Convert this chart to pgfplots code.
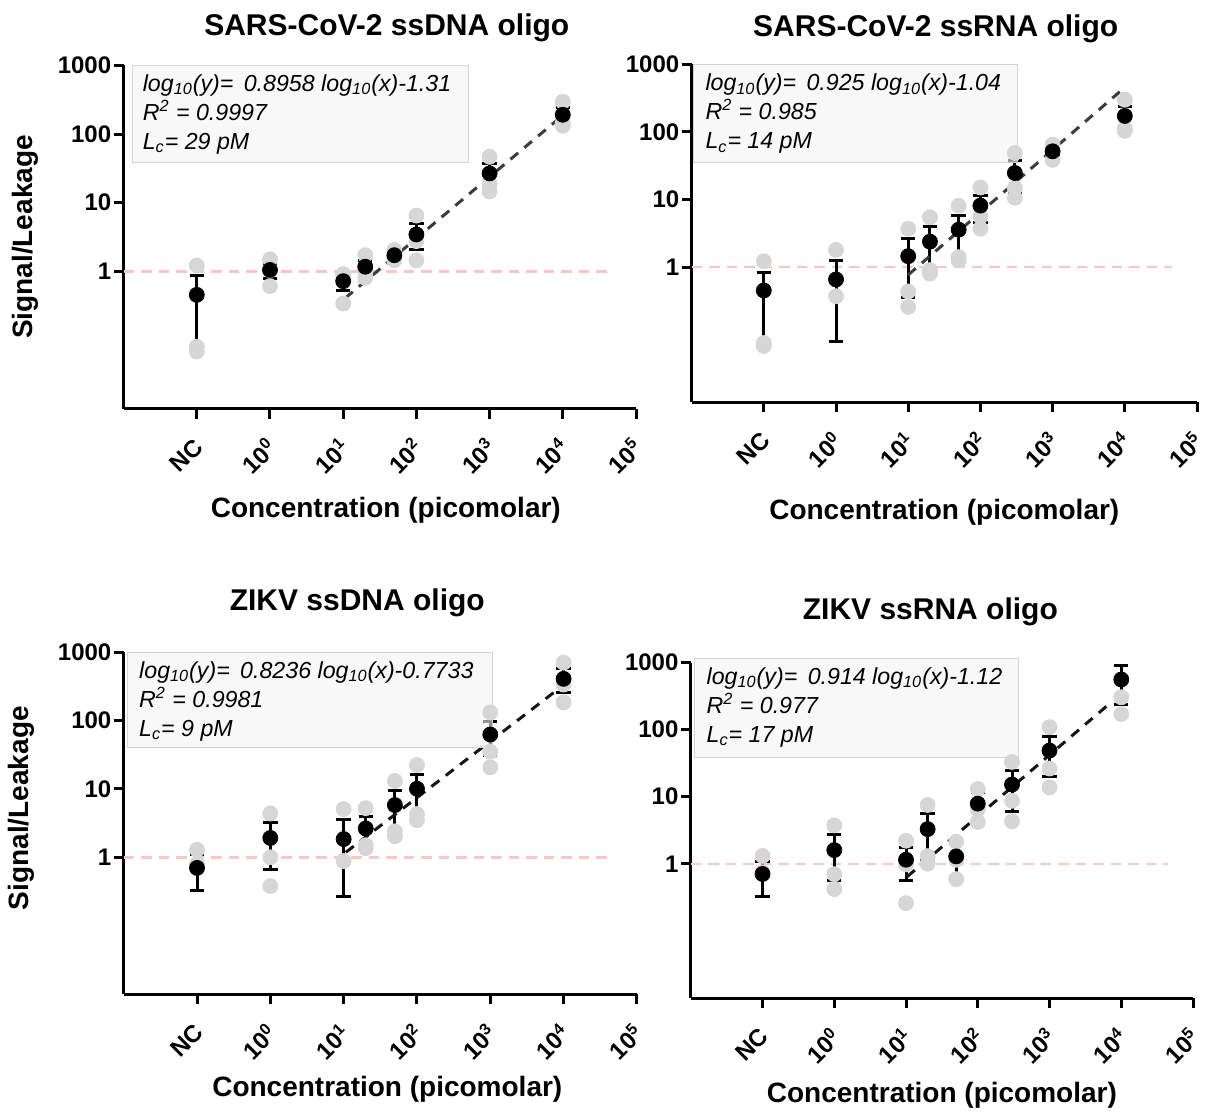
\documentclass[border=0pt]{standalone}
\usepackage{fontspec}
\setmainfont{Liberation Sans}
\usepackage{pgfplots}
\pgfplotsset{compat=1.18}
\definecolor{dotgray}{HTML}{D6D6D6}
\definecolor{refpink}{HTML}{FFC4C4}
\definecolor{boxfill}{HTML}{F3F3F3}
\definecolor{boxedge}{HTML}{D4D4D4}
\definecolor{fitA}{HTML}{3C3C3C}
\definecolor{fitB}{HTML}{161616}

\pgfplotsset{every axis/.append style={
   scale only axis,
   axis x line*=bottom, axis y line*=left,
   axis line style={line width=1.5pt, black},
   tick style={line width=1.5pt, black},
   tick align=outside, major tick length=5pt,
   xticklabel style={font=\fontsize{12}{14}\selectfont\bfseries, xshift=1pt, yshift=-12pt, rotate=45, anchor=east, inner sep=0pt},
   yticklabel style={font=\fontsize{12}{14}\selectfont\bfseries, inner sep=1pt},
   title style={font=\fontsize{15}{18}\selectfont\bfseries, anchor=base, at={(axis description cs:0.5,1)}},
   xlabel style={font=\fontsize{14}{17}\selectfont\bfseries, anchor=base, at={(axis description cs:0.5,0)}},
   ylabel style={font=\fontsize{14}{17}\selectfont\bfseries, anchor=base, at={(axis description cs:0,0.5)}},
}}

\newcommand{\statbox}[8]{%
 \fill[boxfill, fill opacity=0.6] (axis cs:#1,#4) rectangle (axis cs:#2,#3);
 \draw[boxedge, line width=0.5pt] (axis cs:#1,#4) rectangle (axis cs:#2,#3);
 \node[font=\fontsize{11.6}{13}\selectfont\itshape, anchor=base west, inner sep=0pt, yshift=-13pt] at (axis cs:#5,#4) {#6};
 \node[font=\fontsize{11.6}{13}\selectfont\itshape, anchor=base west, inner sep=0pt, yshift=-27.6pt] at (axis cs:#5,#4) {#7};
 \node[font=\fontsize{11.6}{13}\selectfont\itshape, anchor=base west, inner sep=0pt, yshift=-42pt] at (axis cs:#5,#4) {#8};
}

\begin{document}
\begin{tikzpicture}
\path (0,0) rectangle (603pt,556pt);

% ---------- Panel 1: SARS-CoV-2 ssDNA ----------
\begin{axis}[at={(61.8pt,351.65pt)}, width=256.2pt, height=171.65pt,
  xmode=log, ymode=log, xmin=1e-2, xmax=1e5, ymin=1e-2, ymax=1e3,
  xminorticks=false, yminorticks=false, clip=false,
  xtick={0.1,1,10,100,1000,10000,100000},
  xticklabels={NC,10\textsuperscript{0},10\textsuperscript{1},10\textsuperscript{2},10\textsuperscript{3},10\textsuperscript{4},10\textsuperscript{5}},
  ytick={1,10,100,1000}, yticklabels={1,10,100,1000},
  title={SARS-CoV-2 ssDNA oligo}, title style={xshift=3.5pt, yshift=9.1pt},
  ylabel={Signal/Leakage}, ylabel style={yshift=45.3pt},
  xlabel={Concentration (picomolar)}, xlabel style={yshift=-54.5pt, xshift=3pt}]
\addplot[refpink, line width=1.25pt, dash pattern=on 5.25pt off 3.5pt, no marks] coordinates {(0.01,1) (44668,1)};
\addplot[only marks, mark=*, mark size=3.75pt, dotgray, mark options={draw=dotgray, fill=dotgray}] coordinates {
 (0.1,1.22) (0.1,0.08) (0.1,0.068)
 (1,1.5) (1,1.04) (1,0.61)
 (10,0.91) (10,0.91) (10,0.34)
 (20,1.72) (20,0.98) (20,0.81)
 (50,2.05) (50,1.66) (50,1.45)
 (100,6.5) (100,2.76) (100,1.45)
 (1000,46.6) (1000,19) (1000,14.6)
 (10000,296) (10000,145) (10000,132)};
\addplot[only marks, mark=*, mark size=3.75pt, black,
   error bars/.cd, y dir=both, y explicit,
   error bar style={line width=1.5pt, black},
   error mark options={rotate=90, line width=1.5pt, mark size=3.6pt, black}] coordinates {
 (0.1,0.455) += (0,0.405) -= (0,0.373)
 (1,1.05) += (0,0.25) -= (0,0.25)
 (10,0.72) += (0,0.19) -= (0,0.19)
 (20,1.17) += (0,0.25) -= (0,0.25)
 (50,1.72) += (0,0.17) -= (0,0.17)
 (100,3.45) += (0,1.54) -= (0,1.4)
 (1000,26.7) += (0,10.2) -= (0,8.9)
 (10000,191) += (0,52) -= (0,43)};
\addplot[fitA, line width=1.5pt, dash pattern=on 5pt off 4pt, no marks] coordinates {(10.62,0.4066) (9333,176.1)};
\statbox{0.01303}{520}{38}{1000}{0.01807}
 {log\textsubscript{10}(y)=\hspace{0.45em}0.8958 log\textsubscript{10}(x)-1.31}
 {R\textsuperscript{2} = 0.9997}
 {L\textsubscript{c}= 29 pM}
\end{axis}

% ---------- Panel 2: SARS-CoV-2 ssRNA ----------
\begin{axis}[at={(345.8pt,354.9pt)}, width=252.7pt, height=168.9pt,
  xmode=log, ymode=log, xmin=1e-2, xmax=1e5, ymin=1e-2, ymax=1e3,
  xminorticks=false, yminorticks=false, clip=false,
  xtick={0.1,1,10,100,1000,10000,100000},
  xticklabels={NC,10\textsuperscript{0},10\textsuperscript{1},10\textsuperscript{2},10\textsuperscript{3},10\textsuperscript{4},10\textsuperscript{5}},
  ytick={1,10,100,1000}, yticklabels={1,10,100,1000},
  title={SARS-CoV-2 ssRNA oligo}, title style={xshift=-4.3pt, yshift=8.1pt},
  xlabel={Concentration (picomolar)}, xlabel style={yshift=-58.5pt}]
\addplot[refpink, line width=1.25pt, dash pattern=on 5.25pt off 3.5pt, no marks] coordinates {(0.01,1) (44668,1)};
\addplot[only marks, mark=*, mark size=3.75pt, dotgray, mark options={draw=dotgray, fill=dotgray}] coordinates {
 (0.1,1.22) (0.1,0.075) (0.1,0.068)
 (1,1.8) (1,0.37)
 (10,3.7) (10,0.435) (10,0.257)
 (20,5.46) (20,0.9) (20,0.8)
 (50,8.1) (50,1.4) (50,1.25)
 (100,15.1) (100,5.6) (100,3.7)
 (300,48.8) (300,14.7) (300,10.6)
 (1000,65) (1000,52) (1000,38.6)
 (10000,300) (10000,113) (10000,104)};
\addplot[only marks, mark=*, mark size=3.75pt, black,
   error bars/.cd, y dir=both, y explicit,
   error bar style={line width=1.5pt, black},
   error mark options={rotate=90, line width=1.5pt, mark size=3.6pt, black}] coordinates {
 (0.1,0.45) += (0,0.38) -= (0,0.37)
 (1,0.656) += (0,0.59) -= (0,0.576)
 (10,1.45) += (0,1.22) -= (0,1.09)
 (20,2.38) += (0,1.55) -= (0,1.47)
 (50,3.58) += (0,2.22) -= (0,2.13)
 (100,8.13) += (0,3.47) -= (0,3.6)
 (300,24.7) += (0,13) -= (0,12.3)
 (1000,51.7) += (0,5) -= (0,5)
 (10000,172.6) += (0,64) -= (0,60)};
\addplot[fitA, line width=1.5pt, dash pattern=on 5pt off 4pt, no marks] coordinates {(10,0.767) (8511,393.8)};
\statbox{0.01047}{326.6}{35.9}{1000}{0.01538}
 {log\textsubscript{10}(y)=\hspace{0.45em}0.925 log\textsubscript{10}(x)-1.04}
 {R\textsuperscript{2} = 0.985}
 {L\textsubscript{c}= 14 pM}
\end{axis}

% ---------- Panel 3: ZIKV ssDNA ----------
\begin{axis}[at={(61.85pt,59pt)}, width=256.6pt, height=170.85pt,
  xmode=log, ymode=log, xmin=1e-2, xmax=1e5, ymin=1e-2, ymax=1e3,
  xminorticks=false, yminorticks=false, clip=false,
  xtick={0.1,1,10,100,1000,10000,100000},
  xticklabels={NC,10\textsuperscript{0},10\textsuperscript{1},10\textsuperscript{2},10\textsuperscript{3},10\textsuperscript{4},10\textsuperscript{5}},
  ytick={1,10,100,1000}, yticklabels={1,10,100,1000},
  title={ZIKV ssDNA oligo}, title style={xshift=-11.5pt, yshift=14.9pt},
  ylabel={Signal/Leakage}, ylabel style={yshift=47.6pt, xshift=7.5pt},
  xlabel={Concentration (picomolar)}, xlabel style={yshift=-51.1pt, xshift=3.5pt}]
\addplot[refpink, line width=1.25pt, dash pattern=on 5.25pt off 3.5pt, no marks] coordinates {(0.01,1) (44668,1)};
\addplot[only marks, mark=*, mark size=3.75pt, dotgray, mark options={draw=dotgray, fill=dotgray}] coordinates {
 (0.1,1.29) (0.1,0.8)
 (1,4.38) (1,1.0) (1,0.38)
 (10,5.07) (10,0.88)
 (20,5.25) (20,1.5) (20,1.36)
 (50,13.1) (50,2.4) (50,2.03)
 (100,22.4) (100,4.3) (100,3.5)
 (1000,132) (1000,35) (1000,20.7)
 (10000,705) (10000,337) (10000,185)};
\addplot[only marks, mark=*, mark size=3.75pt, black,
   error bars/.cd, y dir=both, y explicit,
   error bar style={line width=1.5pt, black},
   error mark options={rotate=90, line width=1.5pt, mark size=3.6pt, black}] coordinates {
 (0.1,0.70) += (0,0.41) -= (0,0.374)
 (1,1.92) += (0,1.28) -= (0,1.26)
 (10,1.85) += (0,1.67) -= (0,1.58)
 (20,2.64) += (0,1.3) -= (0,1.09)
 (50,5.82) += (0,3.7) -= (0,3.6)
 (100,10.07) += (0,6.4) -= (0,6.35)
 (1000,62.7) += (0,36) -= (0,32)
 (10000,409) += (0,161) -= (0,152)};
\addplot[fitB, line width=1.5pt, dash pattern=on 5pt off 4pt, no marks] coordinates {(10.7,1.184) (9333,313.6)};
\statbox{0.01122}{1072}{40.8}{1000}{0.01607}
 {log\textsubscript{10}(y)=\hspace{0.45em}0.8236 log\textsubscript{10}(x)-0.7733}
 {R\textsuperscript{2} = 0.9981}
 {L\textsubscript{c}= 9 pM}
\end{axis}

% ---------- Panel 4: ZIKV ssRNA ----------
\begin{axis}[at={(345.4pt,57pt)}, width=251.1pt, height=167.75pt,
  xmode=log, ymode=log, xmin=1e-2, xmax=1e5, ymin=1e-2, ymax=1e3,
  xminorticks=false, yminorticks=false, clip=false,
  xtick={0.1,1,10,100,1000,10000,100000},
  xticklabels={NC,10\textsuperscript{0},10\textsuperscript{1},10\textsuperscript{2},10\textsuperscript{3},10\textsuperscript{4},10\textsuperscript{5}},
  ytick={1,10,100,1000}, yticklabels={1,10,100,1000},
  title={ZIKV ssRNA oligo}, title style={xshift=-5.75pt, yshift=15.6pt},
  xlabel={Concentration (picomolar)}, xlabel style={yshift=-52pt}]
\addplot[refpink, line width=1.25pt, dash pattern=on 5.25pt off 3.5pt, no marks] coordinates {(0.01,1) (44668,1)};
\addplot[only marks, mark=*, mark size=3.75pt, dotgray, mark options={draw=dotgray, fill=dotgray}] coordinates {
 (0.1,1.31) (0.1,0.75)
 (1,3.74) (1,0.70) (1,0.42)
 (10,2.21) (10,0.98) (10,0.26)
 (20,7.54) (20,1.3) (20,1.0)
 (50,2.13) (50,1.15) (50,0.59)
 (100,13.0) (100,6.5) (100,4.2)
 (300,33) (300,8.7) (300,4.3)
 (1000,108.9) (1000,26.3) (1000,13.8)
 (10000,303) (10000,170)};
\addplot[only marks, mark=*, mark size=3.75pt, black,
   error bars/.cd, y dir=both, y explicit,
   error bar style={line width=1.5pt, black},
   error mark options={rotate=90, line width=1.5pt, mark size=3.6pt, black}] coordinates {
 (0.1,0.705) += (0,0.375) -= (0,0.375)
 (1,1.6) += (0,1.16) -= (0,1.04)
 (10,1.15) += (0,0.58) -= (0,0.58)
 (20,3.29) += (0,2.27) -= (0,2.17)
 (50,1.29) += (0,0.72) -= (0,0.66)
 (100,7.89) += (0,3.7) -= (0,3.8)
 (300,15.2) += (0,9) -= (0,9.1)
 (1000,48.7) += (0,29) -= (0,29)
 (10000,558) += (0,343) -= (0,325)};
\addplot[fitB, line width=1.5pt, dash pattern=on 5pt off 4pt, no marks] coordinates {(10.38,0.6437) (7516,264.8)};
\statbox{0.01132}{373}{39}{1167}{0.01644}
 {log\textsubscript{10}(y)=\hspace{0.45em}0.914 log\textsubscript{10}(x)-1.12}
 {R\textsuperscript{2} = 0.977}
 {L\textsubscript{c}= 17 pM}
\end{axis}
\end{tikzpicture}
\end{document}
